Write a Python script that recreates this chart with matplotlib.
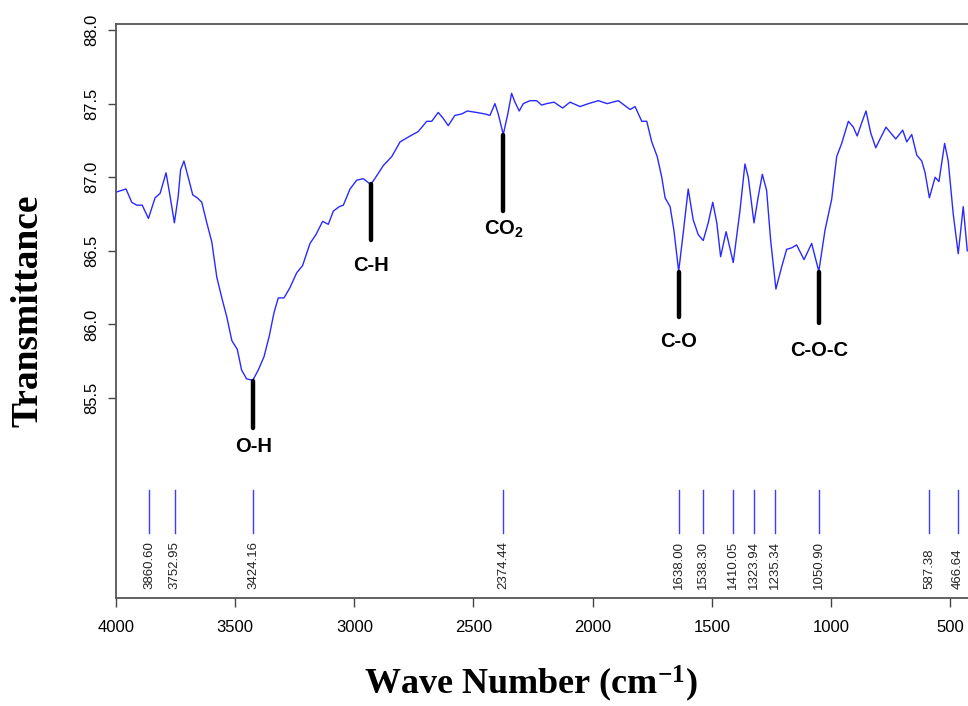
import matplotlib
matplotlib.use("Agg")
import matplotlib.pyplot as plt

plt.rcParams['font.family'] = ['Liberation Sans', 'DejaVu Sans']
plt.rcParams['mathtext.default'] = 'regular'

# FTIR spectrum (wave number in cm-1, transmittance)
wavenumber = [3997, 3958, 3934, 3913, 3890, 3864, 3836, 3815, 3790, 3773,
              3755, 3739, 3729, 3715, 3697, 3678, 3659, 3640, 3619, 3598,
              3577, 3556, 3535, 3514, 3491, 3473, 3452, 3426, 3403, 3379,
              3357, 3337, 3319, 3295, 3270, 3242, 3217, 3186, 3161, 3133,
              3109, 3088, 3063, 3046, 3018, 2990, 2962, 2931, 2906, 2878,
              2843, 2808, 2766, 2732, 2696, 2675, 2648, 2627, 2606, 2578,
              2549, 2526, 2487, 2452, 2431, 2410, 2396, 2375, 2356, 2340,
              2326, 2308, 2291, 2263, 2235, 2214, 2193, 2162, 2126, 2095,
              2053, 2018, 1976, 1939, 1892, 1843, 1822, 1794, 1773, 1752,
              1729, 1710, 1696, 1675, 1659, 1639, 1620, 1599, 1578, 1557,
              1536, 1515, 1496, 1479, 1463, 1440, 1410, 1382, 1361, 1347,
              1323, 1305, 1288, 1270, 1253, 1231, 1207, 1186, 1165, 1144,
              1113, 1081, 1051, 1025, 997, 976, 955, 927, 906, 890,
              871, 853, 833, 812, 794, 769, 749, 728, 699, 682,
              661, 640, 619, 605, 587, 563, 547, 523, 508, 487,
              466, 445, 428]
transmittance = [86.90, 86.92, 86.83, 86.81, 86.81, 86.72, 86.86, 86.89, 87.03, 86.87,
                 86.69, 86.87, 87.05, 87.11, 87.00, 86.88, 86.86, 86.83, 86.69, 86.56,
                 86.32, 86.18, 86.05, 85.89, 85.83, 85.69, 85.63, 85.62, 85.69, 85.78,
                 85.92, 86.08, 86.18, 86.18, 86.25, 86.35, 86.40, 86.55, 86.61, 86.70,
                 86.68, 86.77, 86.80, 86.81, 86.92, 86.98, 86.99, 86.95, 87.01, 87.08,
                 87.14, 87.24, 87.28, 87.31, 87.38, 87.38, 87.44, 87.40, 87.35, 87.42,
                 87.43, 87.45, 87.44, 87.43, 87.42, 87.50, 87.43, 87.29, 87.43, 87.57,
                 87.51, 87.45, 87.50, 87.52, 87.52, 87.49, 87.50, 87.51, 87.47, 87.51,
                 87.48, 87.50, 87.52, 87.50, 87.52, 87.46, 87.48, 87.38, 87.38, 87.24,
                 87.14, 87.00, 86.86, 86.80, 86.64, 86.36, 86.62, 86.92, 86.71, 86.61,
                 86.57, 86.69, 86.83, 86.69, 86.46, 86.63, 86.42, 86.77, 87.09, 87.00,
                 86.69, 86.87, 87.02, 86.91, 86.57, 86.24, 86.39, 86.51, 86.52, 86.54,
                 86.44, 86.55, 86.36, 86.64, 86.85, 87.14, 87.23, 87.38, 87.34, 87.28,
                 87.37, 87.45, 87.30, 87.20, 87.26, 87.34, 87.30, 87.26, 87.32, 87.24,
                 87.29, 87.15, 87.11, 87.03, 86.86, 87.00, 86.97, 87.23, 87.11, 86.75,
                 86.48, 86.80, 86.50]

# picked peaks listed under the spectrum
peak_positions = [3860.60, 3752.95, 3424.16, 2374.44, 1638.00, 1538.30,
                  1410.05, 1323.94, 1235.34, 1050.90, 587.38, 466.64]

# functional group markers: position, bar top, bar bottom, label baseline
group_labels = ['O-H', 'C-H', 'CO$_2$', 'C-O', 'C-O-C']
group_x = [3424.16, 2930, 2374.44, 1638.00, 1050.90]
group_top = [85.615, 86.954, 87.287, 86.358, 86.358]
group_bottom = [85.296, 86.573, 86.772, 86.052, 86.012]
group_text_y = [85.13, 86.363, 86.607, 85.846, 85.785]

fig = plt.figure(figsize=(9.68, 7.06), dpi=100)
ax = fig.add_axes([116 / 968, 1 - 598 / 706, 1 - 116 / 968, (598 - 24) / 706])

ax.plot(wavenumber, transmittance, color='#2a2aff', lw=1.0)

for x in peak_positions:
    ax.plot([x, x], [84.583, 84.875], color='#3c3cff', lw=1.0)
    ax.text(x, 84.202, f'{x:.2f}', rotation=90, ha='center', va='bottom',
            fontsize=9.5, color='#222222')

for lab, x, y0, y1, ty in zip(group_labels, group_x, group_top, group_bottom, group_text_y):
    ax.plot([x, x], [y0, y1], color='black', lw=3.2, solid_capstyle='round')
    ax.text(x, ty, lab, ha='center', va='baseline', fontsize=14.5, fontweight='bold')

ax.set_xlim(4000, 425)
ax.set_ylim(84.141, 88.041)
ax.set_xticks([4000, 3500, 3000, 2500, 2000, 1500, 1000, 500])
ax.set_yticks([85.5, 86.0, 86.5, 87.0, 87.5, 88.0])
ax.set_yticklabels(['85.5', '86.0', '86.5', '87.0', '87.5', '88.0'],
                   rotation=90, va='center')
ax.tick_params(axis='x', length=6.5, width=1, color='#444444', labelsize=12, pad=9)
ax.tick_params(axis='y', length=6, width=1, color='#444444', labelsize=12, pad=6)

ax.spines['right'].set_visible(False)
for s in ['top', 'left', 'bottom']:
    ax.spines[s].set_color('#555555')
    ax.spines[s].set_linewidth(1.3)

fig.text(28 / 968, 1 - 311 / 706, 'Transmittance', rotation=90, ha='center', va='center',
         fontsize=27, fontweight='bold', family='Liberation Serif')
fig.text(531 / 968, 1 - 694 / 706, 'Wave Number (cm$^{-1}$)', ha='center', va='baseline',
         fontsize=26, fontweight='bold', family='Liberation Serif')

fig.savefig('out.png', dpi=100)
